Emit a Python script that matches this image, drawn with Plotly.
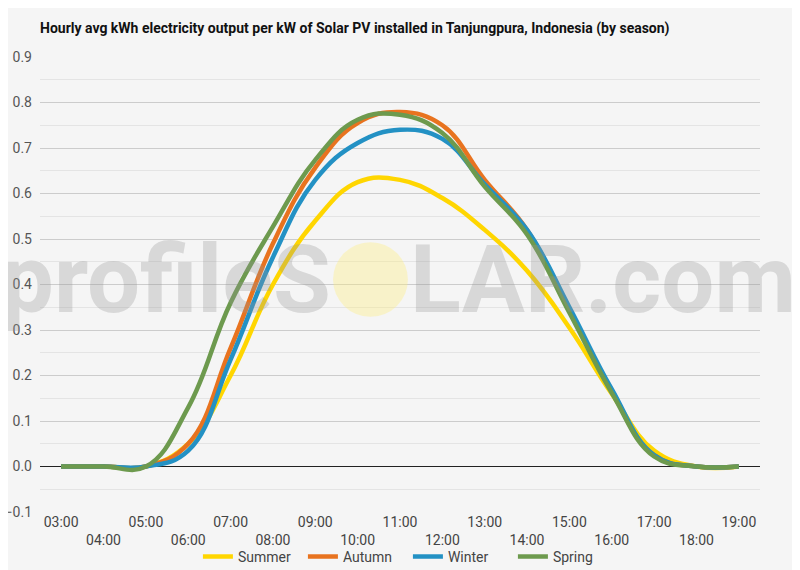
import plotly.graph_objects as go

# hourly averages
hours = ["03:00", "04:00", "05:00", "06:00", "07:00", "08:00", "09:00", "10:00", "11:00",
         "12:00", "13:00", "14:00", "15:00", "16:00", "17:00", "18:00", "19:00"]

summer = [0.0, 0.0, 0.0, 0.05, 0.20, 0.40, 0.54, 0.625, 0.63, 0.59, 0.52, 0.43, 0.305, 0.16, 0.035, 0.0, 0.0]
autumn = [0.0, 0.0, 0.0, 0.05, 0.26, 0.49, 0.657, 0.755, 0.779, 0.75, 0.63, 0.52, 0.345, 0.165, 0.025, 0.0, 0.0]
winter = [0.0, 0.0, 0.0, 0.035, 0.235, 0.46, 0.63, 0.711, 0.74, 0.72, 0.62, 0.52, 0.35, 0.17, 0.025, 0.0, 0.0]
spring = [0.0, 0.0, 0.0, 0.13, 0.36, 0.527, 0.674, 0.762, 0.773, 0.733, 0.615, 0.51, 0.338, 0.162, 0.022, 0.0, 0.0]

seasons = ["Summer", "Autumn", "Winter", "Spring"]
colors = ["#FFD600", "#E8731F", "#2391C4", "#6D9A4E"]

# every second label drops to a second row
tick_text = [h if i % 2 == 0 else "<br>" + h for i, h in enumerate(hours)]

fig = go.Figure()
for name, vals, col in zip(seasons, [summer, autumn, winter, spring], colors):
    fig.add_trace(go.Scatter(x=hours, y=vals, name=name, mode="lines",
                             line=dict(color=col, width=4.5, shape="spline", smoothing=1.2)))

# profileSOLAR watermark
wm_font = dict(family="Roboto", size=94, weight=700, color="rgba(150,150,150,0.3)")
fig.add_annotation(text="profileS", xref="paper", yref="paper", x=0.407, y=0.51,
                   xanchor="right", yanchor="middle", showarrow=False, font=wm_font)
fig.add_annotation(text="LAR.com", xref="paper", yref="paper", x=0.511, y=0.51,
                   xanchor="left", yanchor="middle", showarrow=False, font=wm_font)
fig.add_shape(type="circle", xref="paper", yref="paper", x0=0.407, x1=0.511, y0=0.429, y1=0.593,
              fillcolor="rgba(255,238,120,0.35)", line_width=0, layer="above")

# the page body adds an 8px offset, so margins are shifted by that amount
fig.update_layout(
    width=800, height=570,
    margin=dict(l=32, r=48, t=49, b=66),
    paper_bgcolor="#f5f5f5",
    plot_bgcolor="#f5f5f5",
    font=dict(family="Roboto", size=14, color="#444444"),
    title=dict(
        text="<b>Hourly avg kWh electricity output per kW of Solar PV installed in Tanjungpura, Indonesia (by season)</b>",
        x=0.04, xanchor="left", y=0.965, yanchor="middle", xref="container",
        font=dict(family="Roboto", size=14, color="#111111")
    ),
    xaxis=dict(
        type="category", range=[-0.5, 16.5], automargin=False,
        tickmode="array", tickvals=hours, ticktext=tick_text,
        showgrid=False, zeroline=False, showline=False, ticks="",
        tickfont=dict(size=14, color="#444444")
    ),
    yaxis=dict(
        range=[-0.1, 0.9], dtick=0.1, tickformat=".1f", automargin=False,
        gridcolor="#cccccc", gridwidth=1,
        minor=dict(dtick=0.05, showgrid=True, gridcolor="#e4e4e4"),
        zeroline=True, zerolinecolor="#222222", zerolinewidth=1,
        ticklabelstandoff=7,
        tickfont=dict(size=14, color="#555555")
    ),
    legend=dict(orientation="h", x=0.511, xanchor="center", yref="container", y=0.037, yanchor="middle",
                entrywidth=60, entrywidthmode="pixels",
                font=dict(size=14, color="#444444"), bgcolor="rgba(0,0,0,0)"),
)

fig.write_html("out.html")
